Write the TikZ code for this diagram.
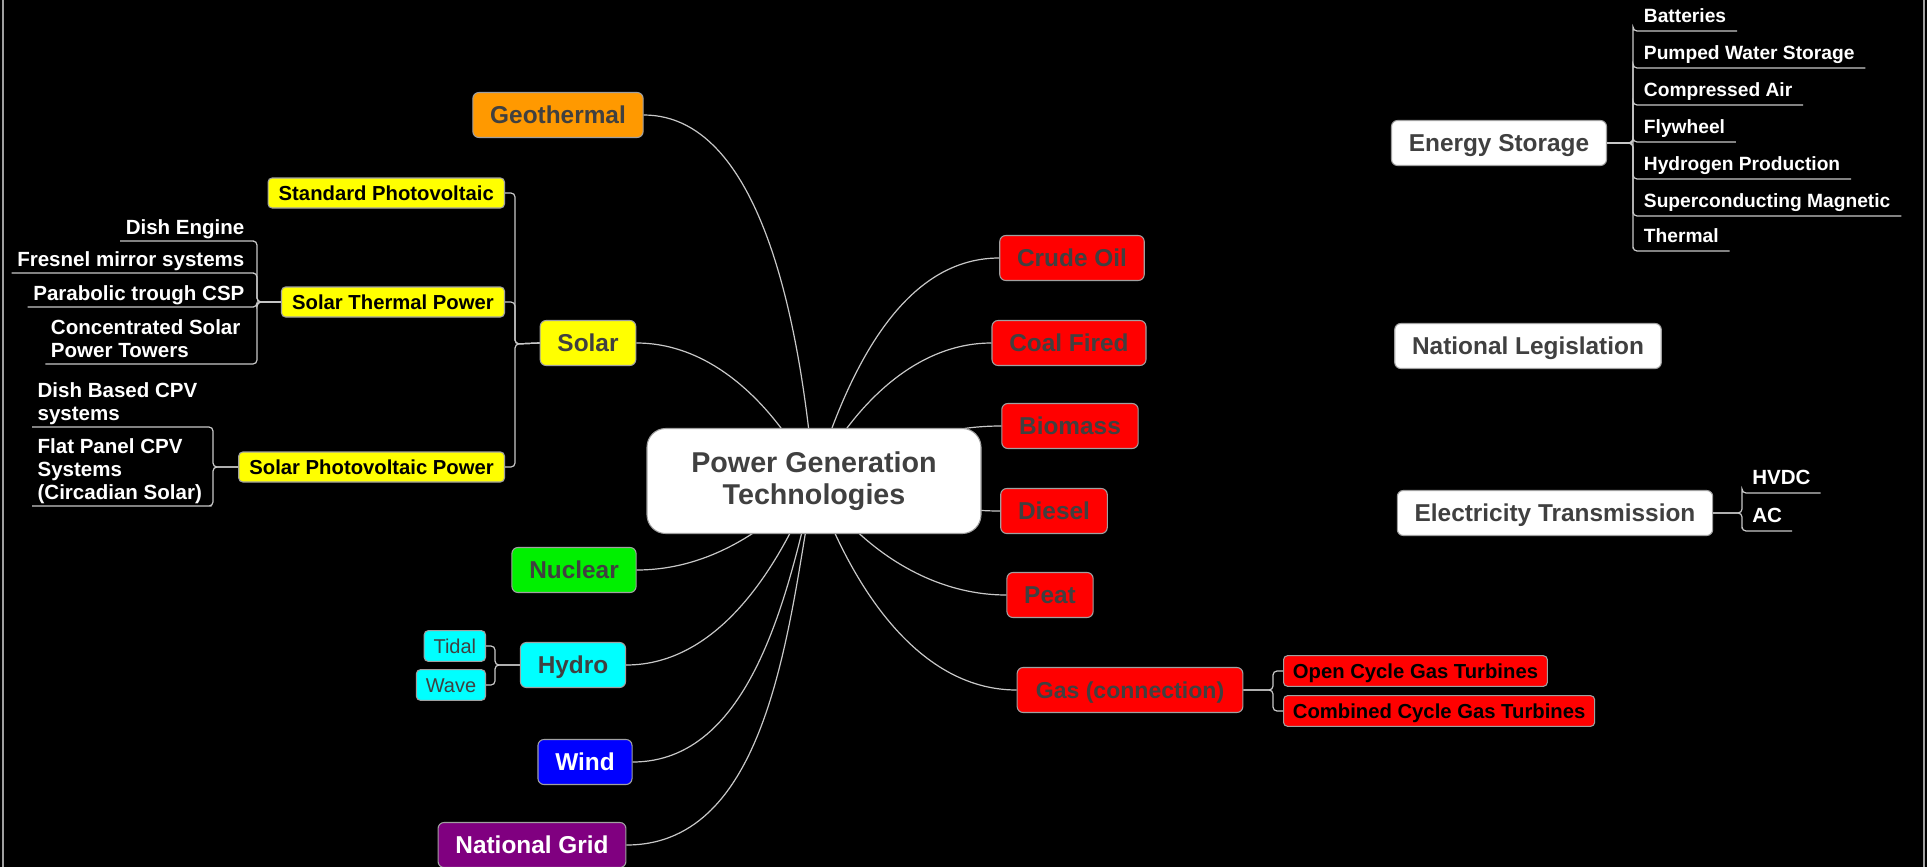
\documentclass[tikz,border=0pt]{standalone}
\usepackage{fontspec}
\setmainfont{Liberation Sans}
\usepackage{tikz}
\usetikzlibrary{positioning}

\definecolor{mmorange}{HTML}{FF9900}
\definecolor{mmyellow}{HTML}{FFFF00}
\definecolor{mmred}{HTML}{FF0000}
\definecolor{mmgreen}{HTML}{00F000}
\definecolor{mmcyan}{HTML}{00FFFF}
\definecolor{mmblue}{HTML}{0000FF}
\definecolor{mmpurple}{HTML}{800080}
\definecolor{mmtext}{HTML}{404040}
\definecolor{mmline}{HTML}{C8C8C8}
\definecolor{mmframe}{HTML}{A0A0A0}

\begin{document}
\begin{tikzpicture}[
  x = 0.75pt, y = 0.75pt,
  root/.style = {
    draw = mmframe,
    fill = white,
    line width = 0.8pt,
    rounded corners = 14pt,
    align = center,
    text = mmtext,
    font = \bfseries\fontsize{21.5}{24}\selectfont,
    minimum width = 250.5pt,
    minimum height = 78.75pt
  },
  topic/.style = {
    draw = mmframe,
    line width = 0.8pt,
    rounded corners = 4.5pt,
    text = mmtext,
    font = \bfseries\fontsize{18.3}{22}\selectfont,
    text height = 13.2pt,
    text depth = 0pt,
    inner xsep = 13pt,
    minimum height = 33.75pt
  },
  aside/.style = {
    topic,
    fill = white
  },
  subtopic/.style = {
    topic,
    fill = mmyellow,
    text = black,
    rounded corners = 3pt,
    font = \bfseries\fontsize{15.2}{17}\selectfont,
    text height = 10.9pt,
    inner xsep = 8pt,
    minimum height = 22.5pt
  },
  turbine/.style = {
    subtopic,
    fill = mmred,
    font = \bfseries\fontsize{15.2}{18}\selectfont,
    text height = 10.9pt,
    inner xsep = 7pt,
    minimum height = 23pt
  },
  wavebox/.style = {
    subtopic,
    fill = mmcyan,
    text = mmtext,
    font = \fontsize{15}{18}\selectfont,
    text height = 10.8pt,
    inner xsep = 7pt,
    minimum height = 23pt
  },
  leaf/.style = {
    text = white,
    align = left,
    font = \bfseries\fontsize{15.4}{17.5}\selectfont,
    text depth = 3pt,
    inner xsep = 4pt,
    inner ysep = 1.5pt
  },
  storeleaf/.style = {
    leaf,
    font = \bfseries\fontsize{14.4}{17}\selectfont,
    inner xsep = 8pt,
    inner ysep = 3pt
  },
  branch/.style = {
    draw = mmline,
    line width = 0.9pt
  },
  fork/.style = {
    branch,
    rounded corners = 3pt
  },
  ]
  % Page and frame.
  \useasboundingbox (0,0) rectangle (1927,-867);
  \fill[black] (0,0) rectangle (1927,-867);
  \draw[mmframe, line width=1.5pt] (3,0) -- (3,-867) (1924,0) -- (1924,-867);

  \coordinate (hub) at (814,-481);

  % Topics on the left.
  \node[topic, fill=mmorange] (geo) at (558,-115) {Geothermal};
  \node[topic, fill=mmyellow] (solar) at (588,-343) {Solar};
  \node[topic, fill=mmgreen] (nuclear) at (574,-570) {Nuclear};
  \node[topic, fill=mmcyan] (hydro) at (573,-665) {Hydro};
  \node[topic, fill=mmblue, text=white] (wind) at (585,-762) {Wind};
  \node[topic, fill=mmpurple, text=white] (grid) at (532,-845) {National Grid};

  % Topics on the right.
  \node[topic, fill=mmred] (crude) at (1072,-258) {Crude Oil};
  \node[topic, fill=mmred] (coal) at (1069,-343) {Coal Fired};
  \node[topic, fill=mmred] (biomass) at (1070,-426) {Biomass};
  \node[topic, fill=mmred] (diesel) at (1054,-511) {Diesel};
  \node[topic, fill=mmred] (peat) at (1050,-595) {Peat};
  \node[topic, fill=mmred, font=\bfseries\fontsize{17.3}{21}\selectfont, inner xsep=14pt] (gas) at (1130,-690) {Gas (connection)};

  % Floating topics.
  \node[aside] (storage) at (1499,-143) {Energy Storage};
  \node[aside] (legis) at (1528,-346) {National Legislation};
  \node[aside] (trans) at (1555,-513) {Electricity Transmission};

  % Solar subtopics.
  \node[subtopic, anchor=east] (stdpv) at (505,-193) {Standard Photovoltaic};
  \node[subtopic, anchor=east] (stp) at (505,-302) {Solar Thermal Power};
  \node[subtopic, anchor=east] (spp) at (505,-467) {Solar Photovoltaic Power};
  \coordinate (solfork) at (515,-344);

  % Solar thermal leaves.
  \node[leaf, anchor=south east] (dish) at (250,-241) {Dish Engine};
  \node[leaf, anchor=south east] (fresnel) at (250,-273) {Fresnel mirror systems};
  \node[leaf, anchor=south east] (trough) at (250,-307) {Parabolic trough CSP};
  \node[leaf, anchor=south east] (tower) at (246,-364) {Concentrated Solar\\Power Towers};
  \coordinate (thermfork) at (257,-302);

  % Solar photovoltaic leaves.
  \node[leaf, anchor=south west] (dishcpv) at (32,-427) {Dish Based CPV\\systems};
  \node[leaf, anchor=south west] (flatcpv) at (32,-506) {Flat Panel CPV\\Systems\\(Circadian Solar)};
  \coordinate (pvfork) at (213,-467);

  % Hydro subtopics.
  \node[wavebox, anchor=east] (tidal) at (486,-646) {Tidal};
  \node[wavebox, anchor=east] (wave) at (486,-685) {Wave};
  \coordinate (hydrofork) at (495,-665);

  % Gas subtopics.
  \node[turbine, anchor=west] (ocgt) at (1283,-671) {Open Cycle Gas Turbines};
  \node[turbine, anchor=west] (ccgt) at (1283,-711) {Combined Cycle Gas Turbines};
  \coordinate (gasfork) at (1273,-690);

  % Storage leaves.
  \foreach \name/\y/\txt in {bat/31/Batteries, pump/68/Pumped Water Storage,
      air/105/Compressed Air, fly/142/Flywheel, hydrogen/179/Hydrogen Production,
      magnet/216/Superconducting Magnetic, therm/251/Thermal} {
    \node[storeleaf, anchor=south west] (\name) at (1633,-\y) {\txt};
  }
  \coordinate (storefork) at (1633,-143);

  % Transmission leaves.
  \node[storeleaf, anchor=south west, font=\bfseries\fontsize{15.4}{18}\selectfont, inner xsep=7.5pt] (hvdc) at (1742,-493) {HVDC};
  \node[storeleaf, anchor=south west, font=\bfseries\fontsize{15.4}{18}\selectfont, inner xsep=7.5pt] (ac) at (1742,-531) {AC};
  \coordinate (transfork) at (1742,-513);

  % Branches from the centre.
  \draw[branch] (hub) to[out=95, in=0, looseness=0.8] (geo.east);
  \draw[branch] (hub) to[out=117, in=0, looseness=0.9] (solar.east);
  \draw[branch] (hub) to[out=-133, in=0, looseness=0.9] (nuclear.east);
  \draw[branch] (hub) to[out=-112, in=0, looseness=0.9] (hydro.east);
  \draw[branch] (hub) to[out=-103, in=0, looseness=0.9] (wind.east);
  \draw[branch] (hub) to[out=-100, in=0, looseness=0.9] (grid.east);
  \draw[branch] (hub) to[out=73, in=180, looseness=0.9] (crude.west);
  \draw[branch] (hub) to[out=63, in=180, looseness=0.9] (coal.west);
  \draw[branch] (hub) to[out=20, in=180] (biomass.west);
  \draw[branch] (hub) to[out=-5, in=180] (diesel.west);
  \draw[branch] (hub) to[out=-56, in=180, looseness=0.9] (peat.west);
  \draw[branch] (hub) to[out=-71, in=180, looseness=0.9] (gas.west);

  % Brackets to the subtopics.
  \foreach \dest in {stdpv, stp, spp} {
    \draw[fork] (solar.west) -- (solfork) |- (\dest.east);
  }
  \foreach \dest in {dish, fresnel, trough, tower} {
    \draw[fork] (stp.west) -- (thermfork) |- (\dest.south east) -- (\dest.south west);
  }
  \foreach \dest in {dishcpv, flatcpv} {
    \draw[fork] (spp.west) -- (pvfork) |- (\dest.south east) -- (\dest.south west);
  }
  \foreach \dest in {tidal, wave} {
    \draw[fork] (hydro.west) -- (hydrofork) |- (\dest.east);
  }
  \foreach \dest in {ocgt, ccgt} {
    \draw[fork] (gas.east) -- (gasfork) |- (\dest.west);
  }
  \foreach \dest in {bat, pump, air, fly, hydrogen, magnet, therm} {
    \draw[fork] (storage.east) -- (storefork) |- (\dest.south west) -- (\dest.south east);
  }
  \foreach \dest in {hvdc, ac} {
    \draw[fork] (trans.east) -- (transfork) |- (\dest.south west) -- (\dest.south east);
  }

  % Central topic on top of the branches.
  \node[root] (centre) at (hub) {Power Generation\\Technologies};
\end{tikzpicture}
\end{document}
